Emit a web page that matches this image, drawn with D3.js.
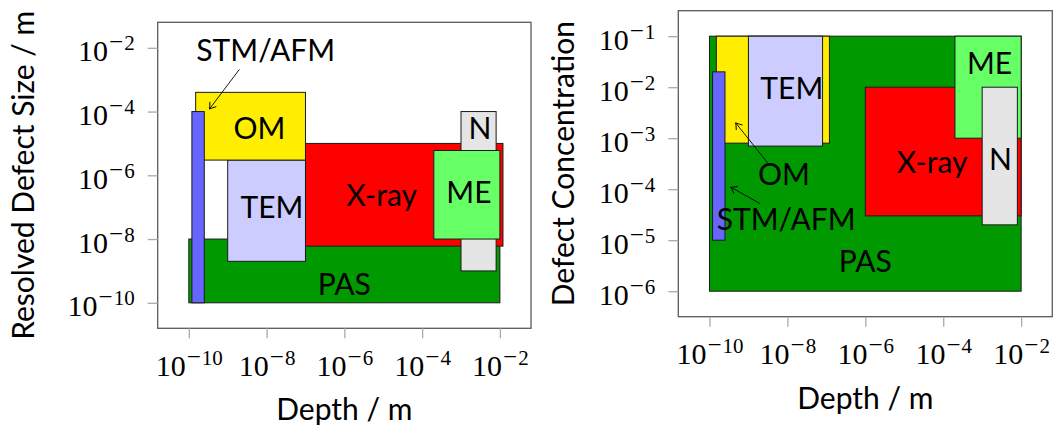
<!DOCTYPE html>
<html><head><meta charset="utf-8">
<script src="https://cdn.jsdelivr.net/npm/d3@7"></script>
<style>
  body { margin: 0; background: #fff; }
  .lbl { font-family: Lato, "Open Sans", sans-serif; font-size: 30px; fill: #000; }
  .tick text { font-family: "Liberation Serif", "Times New Roman", serif; fill: #000; }
</style>
</head><body>
<svg id="chart" width="1054" height="425"></svg>
<script>
// Measurement techniques, in a common order for both panels
const techniques = ["PAS", "STM/AFM", "OM", "TEM", "X-ray", "ME", "N"];

// Panel 1: depth range and resolved defect size range (m)
const sizeDepthLo = [1e-10, 1.2e-10, 1.5e-10, 1e-9, 1e-7, 2e-4, 1e-3];
const sizeDepthHi = [1e-2, 2.5e-10, 1e-7, 1e-7, 1.2e-2, 1e-2, 8e-3];
const sizeLo      = [1e-10, 1e-10, 3e-6, 2e-9, 6e-9, 1e-8, 1e-9];
const sizeHi      = [1e-8, 1e-4, 4e-4, 3e-6, 1e-5, 6e-6, 1e-4];
const sizeOrder   = ["PAS", "X-ray", "N", "ME", "TEM", "OM", "STM/AFM"];
// label anchors (axis coordinates)
const sizeLabelX  = [1e-6, 9.5e-9, 6.6e-9, 1.38e-8, 9.1e-6, 1.6e-3, 3.05e-3];
const sizeLabelY  = [3.8e-10, 8.3e-3, 2.9e-5, 1e-7, 2.4e-7, 2.95e-7, 2.9e-5];
// pointer from a label to its box: [label, x1, y1, x2, y2]
const sizeArrows  = [["STM/AFM", 2.0e-9, 2.1e-3, 3.4e-10, 1.2e-4]];

// Panel 2: depth range and defect concentration range
const concDepthLo = [1e-10, 1.2e-10, 1.5e-10, 1e-9, 1e-6, 2e-4, 1e-3];
const concDepthHi = [1e-2, 2.5e-10, 1.2e-7, 8e-8, 1e-2, 1e-2, 8e-3];
const concLo      = [1e-6, 1e-5, 8e-4, 7e-4, 3e-5, 1e-3, 2e-5];
const concHi      = [1e-1, 2e-2, 1e-1, 1e-1, 1e-2, 1e-1, 1e-2];
const concOrder   = ["PAS", "OM", "TEM", "STM/AFM", "X-ray", "ME", "N"];
const concLabelX  = [1e-6, 9.3e-9, 8.2e-9, 1.3e-8, 5.2e-5, 1.54e-3, 2.95e-3];
const concLabelY  = [3.9e-6, 2.6e-5, 2.0e-4, 9.7e-3, 3.4e-4, 2.9e-2, 3.9e-4];
const concArrows  = [["OM", 3.1e-9, 3.3e-4, 4.7e-10, 2.0e-3],
                     ["STM/AFM", 2.0e-9, 5.2e-5, 3.5e-10, 1.1e-4]];

// Tick values
const depthTicks = [1e-10, 1e-8, 1e-6, 1e-4, 1e-2];
const sizeTicks  = [1e-10, 1e-8, 1e-6, 1e-4, 1e-2];
const concTicks  = [1e-6, 1e-5, 1e-4, 1e-3, 1e-2, 1e-1];

const fills = {
  "PAS": "#009900", "STM/AFM": "#6666ff", "OM": "#ffee00", "TEM": "#ccccff",
  "X-ray": "#ff0000", "ME": "#66ff66", "N": "#e5e5e5"
};

const svg = d3.select("#chart");

// open, slightly curved arrow tip
svg.append("defs").append("marker")
  .attr("id", "tip").attr("markerUnits", "userSpaceOnUse")
  .attr("viewBox", "-8 -5 10 10").attr("refX", 0).attr("refY", 0)
  .attr("markerWidth", 10).attr("markerHeight", 10).attr("orient", "auto")
  .append("path").attr("d", "M-6,-4 Q-2,-1 0,0 Q-2,1 -6,4")
  .attr("fill", "none").attr("stroke", "#000").attr("stroke-width", 0.9);

// writes 10^{-n} labels with a raised exponent
function powerLabel(text, v) {
  const e = Math.round(Math.log10(v));
  text.text(null);
  text.append("tspan").attr("font-size", 30).text("10");
  text.append("tspan").attr("font-size", 25).attr("dy", -11).attr("dx", 1).text("\u2212");
  text.append("tspan").attr("font-size", 21).attr("dx", 1).text(String(-e));
}

function panel(cfg) {
  const { left, right, top, bottom } = cfg.frame;
  const x = d3.scaleLog().domain([Math.pow(10, -10.8), Math.pow(10, -1.2)]).range([left, right]);
  const y = d3.scaleLog().domain(cfg.yDomain).range([bottom, top]);
  const g = svg.append("g");

  // frame
  g.append("rect").attr("x", left).attr("y", top)
    .attr("width", right - left).attr("height", bottom - top)
    .attr("fill", "#fff").attr("stroke", "#5a5a5a").attr("stroke-width", 1.3);

  // axes
  const xa = g.append("g").attr("transform", `translate(0,${bottom})`)
    .call(d3.axisBottom(x).tickValues(depthTicks).tickSize(10));
  xa.select(".domain").remove();
  xa.selectAll(".tick line").attr("stroke", "#aaa").attr("stroke-width", 1.3);
  xa.selectAll(".tick text").attr("y", 47.5).attr("dy", null)
    .attr("text-anchor", "middle").each(function (d) { powerLabel(d3.select(this), d); });

  const ya = g.append("g").attr("transform", `translate(${left},0)`)
    .call(d3.axisLeft(y).tickValues(cfg.yTicks).tickSize(10));
  ya.select(".domain").remove();
  ya.selectAll(".tick line").attr("stroke", "#aaa").attr("stroke-width", 1.3);
  ya.selectAll(".tick text").attr("x", -23).attr("y", 13).attr("dy", null)
    .attr("text-anchor", "end").each(function (d) { powerLabel(d3.select(this), d); });

  // technique boxes
  const boxes = cfg.order.map(name => {
    const i = techniques.indexOf(name);
    return { name, x0: cfg.xLo[i], x1: cfg.xHi[i], y0: cfg.yLo[i], y1: cfg.yHi[i] };
  });
  g.append("g").selectAll("rect").data(boxes).join("rect")
    .attr("x", d => x(d.x0)).attr("width", d => x(d.x1) - x(d.x0))
    .attr("y", d => y(d.y1)).attr("height", d => y(d.y0) - y(d.y1))
    .attr("fill", d => fills[d.name]).attr("stroke", "#1a1a1a").attr("stroke-width", 1);

  // pointers
  g.append("g").selectAll("line").data(cfg.arrows).join("line")
    .attr("x1", d => x(d[1])).attr("y1", d => y(d[2]))
    .attr("x2", d => x(d[3])).attr("y2", d => y(d[4]))
    .attr("stroke", "#000").attr("stroke-width", 0.9).attr("marker-end", "url(#tip)");

  // technique names
  g.append("g").selectAll("text").data(techniques).join("text")
    .attr("class", "lbl").attr("text-anchor", "middle")
    .attr("x", (d, i) => x(cfg.labelX[i])).attr("y", (d, i) => y(cfg.labelY[i]))
    .attr("dy", "0.36em").text(d => d);

  // axis titles
  g.append("text").attr("class", "lbl").attr("text-anchor", "middle")
    .attr("x", (left + right) / 2).attr("y", bottom + cfg.xTitleGap).text("Depth / m");
  g.append("text").attr("class", "lbl").attr("text-anchor", "middle")
    .attr("transform", `translate(${cfg.yTitleX},${(top + bottom) / 2}) rotate(-90)`)
    .text(cfg.yTitle);
}

panel({
  frame: { left: 157.7, right: 531, top: 22.3, bottom: 328.3 },
  yDomain: [Math.pow(10, -10.8), Math.pow(10, -1.2)],
  yTicks: sizeTicks,
  xLo: sizeDepthLo, xHi: sizeDepthHi, yLo: sizeLo, yHi: sizeHi,
  order: sizeOrder, labelX: sizeLabelX, labelY: sizeLabelY, arrows: sizeArrows,
  yTitle: "Resolved Defect Size / m", yTitleX: 34, xTitleGap: 91.5
});

panel({
  frame: { left: 678.3, right: 1052.3, top: 10.7, bottom: 316.7 },
  yDomain: [Math.pow(10, -6.5), Math.pow(10, -0.5)],
  yTicks: concTicks,
  xLo: concDepthLo, xHi: concDepthHi, yLo: concLo, yHi: concHi,
  order: concOrder, labelX: concLabelX, labelY: concLabelY, arrows: concArrows,
  yTitle: "Defect Concentration", yTitleX: 574, xTitleGap: 92.3
});
</script></body></html>
